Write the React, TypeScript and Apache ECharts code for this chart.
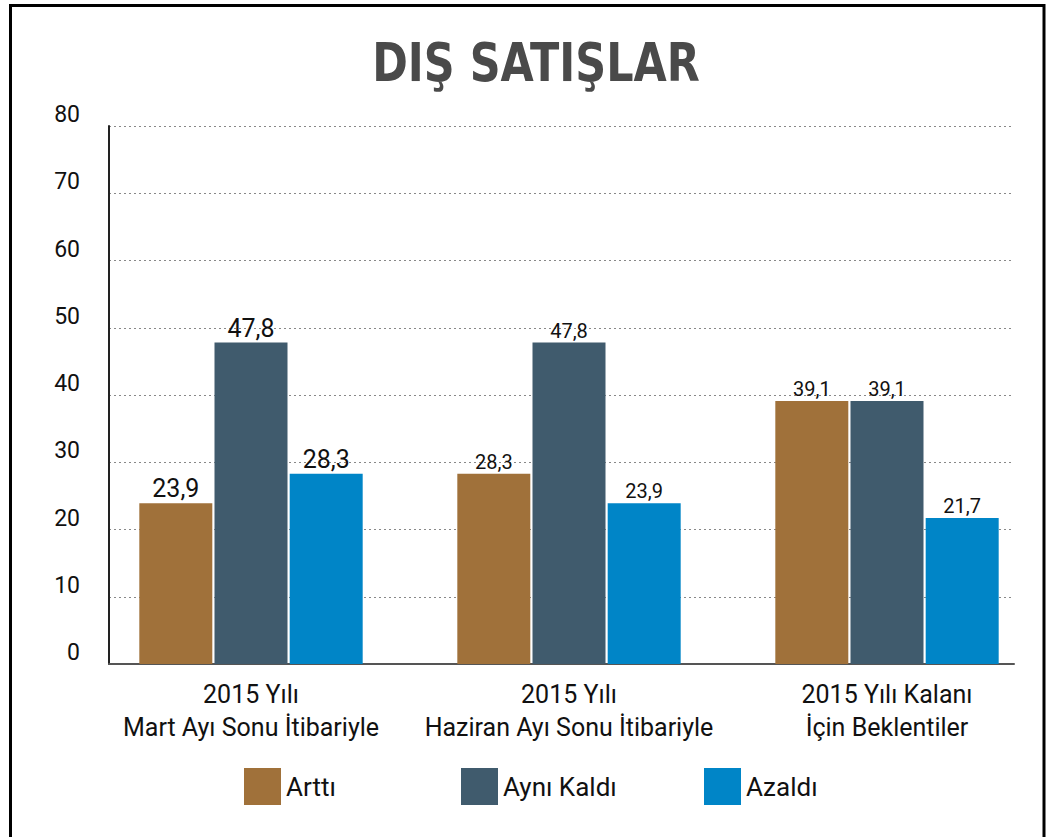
import React, { useEffect, useRef } from "react";
import * as echarts from "echarts";

const categories = [
  "2015 Yılı\nMart Ayı Sonu İtibariyle",
  "2015 Yılı\nHaziran Ayı Sonu İtibariyle",
  "2015 Yılı Kalanı\nİçin Beklentiler",
];
const seriesNames = ["Arttı", "Aynı Kaldı", "Azaldı"];
const arttiValues = [23.9, 28.3, 39.1];
const ayniKaldiValues = [47.8, 47.8, 39.1];
const azaldiValues = [28.3, 23.9, 21.7];
const yTicks = [0, 10, 20, 30, 40, 50, 60, 70, 80];
const titleText = "DIŞ SATIŞLAR";

const colors = ["#A0713A", "#405B6D", "#0085C7"];
const FONT = "Roboto, 'DejaVu Sans', sans-serif";

export default function App() {
  const ref = useRef<HTMLDivElement>(null);
  useEffect(() => {
    if (!ref.current) return;
    const chart = echarts.init(ref.current, undefined, { renderer: "svg" });
    const allValues = [arttiValues, ayniKaldiValues, azaldiValues];
    const series = allValues.map((vals, si) => ({
      name: seriesNames[si],
      type: "bar",
      xAxisIndex: 1,
      yAxisIndex: 1,
      barWidth: 73,
      barGap: "3%",
      itemStyle: { color: colors[si] },
      data: vals.map((v, i) => ({
        value: v,
        label: { fontSize: i === 0 ? 25 : 20 },
      })),
      label: {
        show: true,
        position: "top",
        distance: 2,
        color: "#111",
        fontFamily: FONT,
        formatter: (p: any) => String(p.value).replace(".", ","),
      },
    }));
    const legendLefts = [244, 461, 704];
    chart.setOption({
      animation: false,
      backgroundColor: "#fff",
      textStyle: { fontFamily: FONT },
      graphic: [
        {
          type: "rect",
          shape: { x: 10.5, y: 5.5, width: 1033.5, height: 845 },
          style: { fill: "none", stroke: "#000", lineWidth: 3 },
          z: 100,
        },
        {
          type: "text",
          x: 536,
          y: 63,
          scaleX: 0.9,
          style: {
            text: titleText,
            fontSize: 53,
            fontWeight: "bold",
            fontFamily: "'DejaVu Sans Condensed', 'DejaVu Sans', sans-serif",
            fill: "#4a4a4a",
            textAlign: "center",
            textVerticalAlign: "middle",
          },
        },
      ],
      legend: seriesNames.map((n, i) => ({
        data: [n],
        left: legendLefts[i],
        top: 768,
        padding: 0,
        icon: "rect",
        itemWidth: 37,
        itemHeight: 37,
        selectedMode: false,
        textStyle: { fontSize: 26, color: "#111", fontFamily: FONT },
      })),
      grid: [
        { left: 109, right: 37, top: 126, bottom: 173 },
        { left: 92, right: 5, top: 126, bottom: 173 },
      ],
      xAxis: [
        {
          type: "category",
          gridIndex: 0,
          data: categories,
          axisLine: { show: true, lineStyle: { color: "#555", width: 2 } },
          axisTick: { show: false },
          axisLabel: { show: false },
        },
        {
          type: "category",
          gridIndex: 1,
          data: categories,
          axisLine: { show: false },
          axisTick: { show: false },
          axisLabel: {
            show: true,
            interval: 0,
            fontSize: 25,
            lineHeight: 33,
            margin: 14,
            color: "#111",
            fontFamily: FONT,
          },
        },
      ],
      yAxis: [
        {
          type: "value",
          gridIndex: 0,
          min: yTicks[0],
          max: yTicks[yTicks.length - 1],
          interval: 10,
          axisLine: { show: true, lineStyle: { color: "#222", width: 2 } },
          axisTick: { show: false },
          axisLabel: {
            fontSize: 23,
            color: "#111",
            margin: 29,
            verticalAlign: "bottom",
            fontFamily: FONT,
          },
          splitLine: {
            show: true,
            lineStyle: { type: [2, 3], color: "#888", width: 1 },
          },
        },
        {
          type: "value",
          gridIndex: 1,
          min: yTicks[0],
          max: yTicks[yTicks.length - 1],
          interval: 10,
          show: false,
          splitLine: { show: false },
        },
      ],
      series,
    });
    return () => chart.dispose();
  }, []);
  return (
    <div
      ref={ref}
      style={{ position: "absolute", left: 0, top: 0, width: 1051, height: 837 }}
    />
  );
}
